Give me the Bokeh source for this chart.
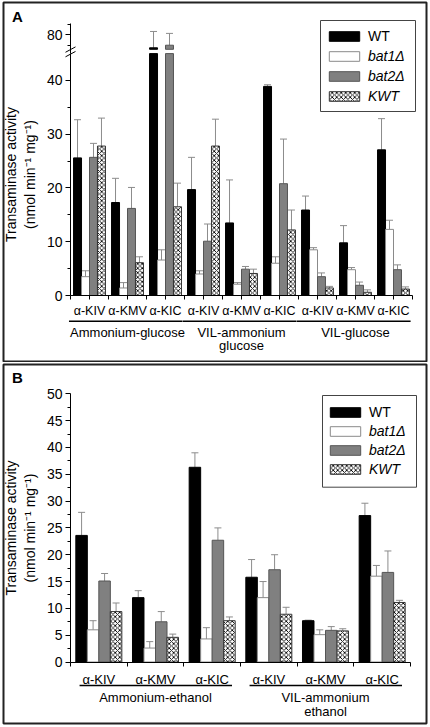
from bokeh.plotting import figure
from bokeh.models import (ColumnDataSource, FixedTicker, Whisker, TeeHead, Legend, LegendItem,
                          CustomJSTickFormatter, Range1d, LinearAxis)
from bokeh.core.properties import value
from bokeh.layouts import column
from bokeh.embed import file_html
from bokeh.resources import INLINE

# ---------------- data ----------------
strains = ["WT", "bat1Δ", "bat2Δ", "KWT"]
substrates = ["α-KIV", "α-KMV", "α-KIC"]

# Panel A
groups_a = ["Ammonium-glucose", "VIL-ammonium\nglucose", "VIL-glucose"]
wt_a = [25.6, 17.3, 74.0, 19.7, 13.5, 38.9, 15.9, 9.8, 27.1]
wt_a_sd = [7.1, 4.5, 7.6, 6.0, 8.0, 0.3, 2.6, 3.2, 5.8]
bat1_a = [3.5, 1.4, 6.6, 4.0, 2.1, 6.0, 8.5, 4.8, 12.3]
bat1_a_sd = [1.1, 1.0, 1.9, 0.6, 0.3, 1.2, 0.4, 0.4, 1.7]
bat2_a = [25.7, 16.2, 75.2, 10.1, 4.9, 20.8, 3.5, 1.9, 4.8]
bat2_a_sd = [2.6, 3.9, 5.5, 3.2, 0.5, 8.3, 0.7, 0.6, 0.9]
kwt_a = [27.8, 6.1, 16.5, 27.8, 4.1, 12.2, 1.4, 0.6, 1.2]
kwt_a_sd = [5.2, 1.1, 4.4, 5.0, 0.8, 3.7, 0.3, 0.45, 0.4]

# Panel B
groups_b = ["Ammonium-ethanol", "VIL-ammonium\nethanol"]
wt_b = [23.6, 12.0, 36.3, 15.8, 7.7, 27.3]
wt_b_sd = [4.3, 1.3, 2.7, 3.3, 0.1, 2.3]
bat1_b = [6.0, 2.6, 4.3, 12.0, 5.1, 16.0]
bat1_b_sd = [1.7, 1.2, 2.1, 3.0, 0.9, 2.0]
bat2_b = [15.1, 7.5, 22.7, 17.2, 5.9, 16.7]
bat2_b_sd = [1.4, 1.9, 2.3, 2.8, 0.7, 4.0]
kwt_b = [9.4, 4.6, 7.7, 8.9, 5.8, 11.1]
kwt_b_sd = [1.6, 0.6, 0.7, 1.3, 0.4, 0.4]

# y-axis break of panel A (lower segment 0-45, upper segment from ~73)
brk_lo, brk_d0, brk_v0, brk_k = 45.0, 45.8, 73.3, 0.4

# ---------------- styling ----------------
FONT = "Liberation Sans"
ERR = "#8c8c8c"
STYLE = {
    "WT": dict(fill_color="black", line_color="black"),
    "bat1Δ": dict(fill_color="white", line_color="#8a8a8a"),
    "bat2Δ": dict(fill_color="#808080", line_color="#555555"),
    "KWT": dict(fill_color="white", line_color="#333333", hatch_pattern="x",
                hatch_color="black", hatch_scale=4.5, hatch_weight=0.9),
}
W = 429


def disp_a(v):
    return v if v <= brk_lo else brk_d0 + (v - brk_v0) * brk_k


def disp_b(v):
    return v


def style_axis(ax, tick_out, minor_out, standoff, font_size):
    ax.major_tick_out = tick_out
    ax.major_tick_in = 0
    ax.minor_tick_out = minor_out
    ax.minor_tick_in = 0
    ax.major_label_standoff = standoff
    ax.major_label_text_font = FONT
    ax.major_label_text_font_size = font_size
    ax.major_label_text_color = "black"
    ax.axis_line_color = "black"
    ax.major_tick_line_color = "black"
    ax.minor_tick_line_color = "black"


def make_panel(H, mb, geom, y_end, groups, vals, sds, bw, disp, broken,
               cat_tick_out, cat_standoff, cat_font, ul_pad, ul_px, grp_px, grp_dpx,
               letter, letter_px, legend_px, yticks, yminor, upper_ticks=None):
    pl, pr, pt, pb = geom  # pixel box of the data area
    mleft, mright, mtop, mbottom = mb
    n_cat = len(groups) * len(substrates)
    sx = (pr - pl) / n_cat
    sy = (pb - pt) / y_end

    def dx(fx):
        return (fx - pl) / sx

    def dy(fy):
        return (pb - fy) / sy

    x_range = Range1d(dx(mleft), dx(W - mright))
    y_range = Range1d(dy(H - mbottom), dy(mtop))
    p = figure(width=W, height=H, x_range=x_range, y_range=y_range, title=None,
               output_backend="svg", toolbar_location=None,
               min_border_left=mleft, min_border_right=mright,
               min_border_top=mtop, min_border_bottom=mbottom)
    p.xgrid.visible = False
    p.ygrid.visible = False
    p.outline_line_color = "#222222"
    p.outline_line_width = 2
    p.background_fill_color = "white"
    p.border_fill_color = "white"

    # bars + error bars
    rends = {}
    for j, s in enumerate(strains):
        xs, tops, bots, wx, wlo, whi = [], [], [], [], [], []
        for i, v in enumerate(vals[s]):
            x = i + 0.5 + (j - 1.5) * bw
            if broken and v > brk_lo:
                xs += [x, x]
                bots += [0, brk_d0]
                tops += [brk_lo, disp(v)]
            else:
                xs.append(x)
                bots.append(0)
                tops.append(v)
            wx.append(x)
            wlo.append(disp(v))
            whi.append(disp(v + sds[s][i]))
        src = ColumnDataSource(dict(x=xs, top=tops, bottom=bots))
        r = p.vbar(x="x", top="top", bottom="bottom", width=bw, source=src,
                   line_width=1, **STYLE[s])
        wsrc = ColumnDataSource(dict(base=wx, lower=wlo, upper=whi))
        p.add_layout(Whisker(source=wsrc, base="base", lower="lower", upper="upper",
                             dimension="height", lower_head=None,
                             upper_head=TeeHead(size=7, line_color=ERR, line_width=1),
                             line_color=ERR, line_width=1))
        rends[s] = r

    # x axis (category labels) at y = 0
    cat_labels = substrates * len(groups)
    xa = p.xaxis[0]
    xa.fixed_location = 0
    xa.bounds = (0, n_cat)
    xa.ticker = FixedTicker(ticks=[i + 0.5 for i in range(n_cat)],
                            minor_ticks=list(range(n_cat + 1)))
    xa.formatter = CustomJSTickFormatter(args=dict(labels=cat_labels),
                                         code="return labels[Math.floor(tick)];")
    style_axis(xa, cat_tick_out, 4, cat_standoff, cat_font)

    # y axis at x = 0
    if broken:
        yfmt = CustomJSTickFormatter(
            args=dict(lo=brk_lo, d0=brk_d0, v0=brk_v0, k=brk_k),
            code="if (tick > lo) { return ((tick - d0) / k + v0).toFixed(0); } return tick.toFixed(0);")
    else:
        yfmt = CustomJSTickFormatter(code="return tick.toFixed(0);")
    ya = p.yaxis[0]
    ya.fixed_location = 0
    ya.bounds = (0, brk_lo if broken else y_end)
    ya.ticker = FixedTicker(ticks=yticks, minor_ticks=yminor)
    ya.formatter = yfmt
    style_axis(ya, 5, 3, 3, "14px")
    ya.axis_label = "Transaminase activity\n(nmol min⁻¹ mg⁻¹)"
    ya.axis_label_text_font = FONT
    ya.axis_label_text_font_size = "14px"
    ya.axis_label_text_font_style = "normal"
    ya.axis_label_text_color = "black"
    ya.axis_label_standoff = 6

    if broken:
        # upper segment of the broken y axis
        ya2 = LinearAxis(fixed_location=0, bounds=(brk_lo, y_end),
                         ticker=FixedTicker(ticks=upper_ticks[0], minor_ticks=upper_ticks[1]),
                         formatter=yfmt)
        style_axis(ya2, 5, 3, 3, "14px")
        p.add_layout(ya2, "left")
        # axis break marks
        bx = [dx(pl - 5), dx(pl - 5)]
        bx1 = [dx(pl + 5), dx(pl + 5)]
        by0 = [brk_lo - 0.1 - 0.5, brk_d0 - 0.05 - 0.5]
        by1 = [brk_lo - 0.1 + 0.5, brk_d0 - 0.05 + 0.5]
        p.segment(x0=bx, y0=by0, x1=bx1, y1=by1, line_color="black", line_width=1)

    # group underlines and names
    ux0, ux1, uy, tx, ty, tt = [], [], [], [], [], []
    for g, name in enumerate(groups):
        ux0.append(3 * g + ul_pad[0])
        ux1.append(3 * g + 3 + ul_pad[1])
        uy.append(dy(pb + ul_px))
        for li, line in enumerate(name.split("\n")):
            tx.append(3 * g + 1.5)
            ty.append(dy(pb + grp_px + li * grp_dpx))
            tt.append(line)
    p.segment(x0=ux0, y0=uy, x1=ux1, y1=uy, line_color="black", line_width=1.6)
    p.text(x=tx, y=ty, text=tt, text_align="center", text_baseline="middle",
           text_font=value(FONT), text_font_size="13px", text_color="black")

    # panel letter
    p.text(x=[dx(letter_px[0])], y=[dy(letter_px[1])], text=[letter],
           text_align="center", text_baseline="middle", text_font=value(FONT),
           text_font_size="15px", text_font_style="bold", text_color="black")

    # legend box + legends
    bx0, bx1, by0_, by1_, gx, row0, pitch = legend_px
    p.quad(left=[dx(bx0)], right=[dx(bx1)], bottom=[dy(by1_)], top=[dy(by0_)],
           fill_color="white", line_color="#444444", line_width=1)
    row_h = 16
    spacing = int(pitch - row_h)
    frame_bottom = H - mbottom
    common = dict(border_line_color=None, background_fill_alpha=0, padding=0, margin=0,
                  spacing=spacing, glyph_width=38, glyph_height=12, label_height=row_h,
                  label_standoff=5, label_text_font=FONT, label_text_font_size="14px",
                  label_text_color="black")
    vy1 = frame_bottom - (row0 + row_h / 2)
    vy2 = frame_bottom - (row0 + 3 * pitch + row_h / 2)
    leg1 = Legend(items=[LegendItem(label="WT", renderers=[rends["WT"]])],
                  location=(gx - mleft, vy1), label_text_font_style="normal", **common)
    leg2 = Legend(items=[LegendItem(label=s, renderers=[rends[s]]) for s in strains[1:]],
                  location=(gx - mleft, vy2), label_text_font_style="italic", **common)
    p.add_layout(leg1)
    p.add_layout(leg2)
    return p


# ---------------- panel A ----------------
pA = make_panel(
    H=362, mb=(3, 3, 2, 1), geom=(70, 412, 23, 295), y_end=50.6,
    groups=groups_a,
    vals={"WT": wt_a, "bat1Δ": bat1_a, "bat2Δ": bat2_a, "KWT": kwt_a},
    sds={"WT": wt_a_sd, "bat1Δ": bat1_a_sd, "bat2Δ": bat2_a_sd, "KWT": kwt_a_sd},
    bw=0.21, disp=disp_a, broken=True, cat_tick_out=4, cat_standoff=4, cat_font="12.5px",
    ul_pad=(-0.04, -0.05), ul_px=25.7, grp_px=36.7, grp_dpx=13.3,
    letter="A", letter_px=(17, 15.5),
    legend_px=(320, 415, 20, 111, 325, 36, 20),
    yticks=[0, 10, 20, 30, 40],
    yminor=[5, 15, 25, 35],
    upper_ticks=([disp_a(80)], [disp_a(75), disp_a(85)]),
)

# ---------------- panel B ----------------
pB = make_panel(
    H=364, mb=(3, 3, 2, 3), geom=(70, 410, 31.3, 299.5), y_end=50,
    groups=groups_b,
    vals={"WT": wt_b, "bat1Δ": bat1_b, "bat2Δ": bat2_b, "KWT": kwt_b},
    sds={"WT": wt_b_sd, "bat1Δ": bat1_b_sd, "bat2Δ": bat2_b_sd, "KWT": kwt_b_sd},
    bw=0.203, disp=disp_b, broken=False, cat_tick_out=0, cat_standoff=6, cat_font="13px",
    ul_pad=(0.16, -0.15), ul_px=23.5, grp_px=35.2, grp_dpx=14,
    letter="B", letter_px=(17, 15),
    legend_px=(322, 416, 33, 124.7, 326, 49.7, 19),
    yticks=[0, 5, 10, 15, 20, 25, 30, 35, 40, 45, 50],
    yminor=[2.5, 7.5, 12.5, 17.5, 22.5, 27.5, 32.5, 37.5, 42.5, 47.5],
)

layout = column(pA, pB, spacing=0)
open("out.html", "w").write(file_html(layout, INLINE))
